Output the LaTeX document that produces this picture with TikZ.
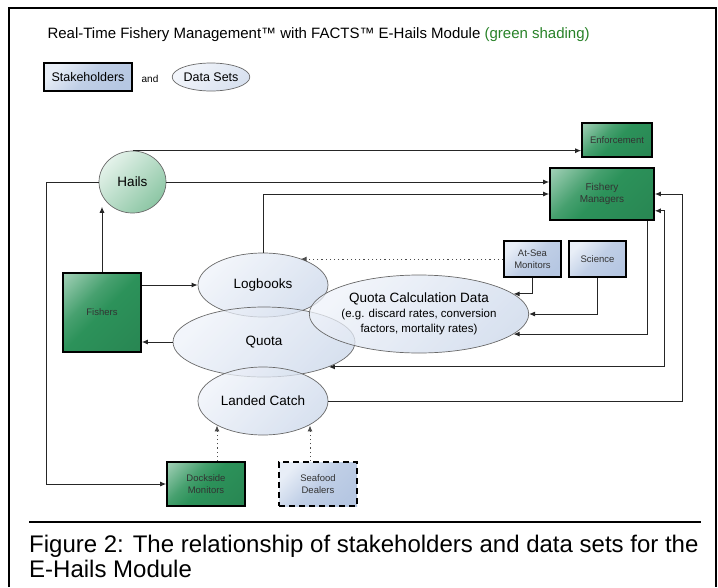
\documentclass[tikz,border=0pt]{standalone}
\usepackage{fontspec}
\setmainfont{Liberation Sans}
\definecolor{ehGreen}{RGB}{44,146,90}
\definecolor{ehGreenLight}{RGB}{222,240,230}
\definecolor{ehHails}{RGB}{140,198,164}
\definecolor{ehHailsLight}{RGB}{228,242,234}
\definecolor{ehBlue}{RGB}{182,199,226}
\definecolor{ehBlueLight}{RGB}{232,238,247}
\definecolor{ehData}{RGB}{203,215,234}
\definecolor{ehDataLight}{RGB}{238,242,249}
\definecolor{ehEdge}{RGB}{105,105,105}
\definecolor{ehText}{RGB}{40,130,40}
\usetikzlibrary{arrows.meta,positioning,shapes.geometric,calc}
\pgfdeclareverticalshading{ehgreenshade}{100bp}{color(0bp)=(ehGreen!88!black);
  color(50bp)=(ehGreen); color(62bp)=(ehGreen!85!ehGreenLight); color(100bp)=(ehGreenLight)}

\begin{document}
\begin{tikzpicture}[x=1pt, y=-1pt,
    stake/.style={rectangle, draw=black, line width=1.6pt, top color=ehBlueLight,
                  bottom color=ehBlue, middle color=ehBlue!80!ehBlueLight,
                  shading angle=45, align=center, text=black!80,
                  font=\fontsize{9.5}{11.5}\selectfont, inner sep=1pt},
    stakeG/.style={stake, shading=ehgreenshade, shading angle=45},
    data/.style={ellipse, draw=ehEdge, line width=0.7pt, top color=ehDataLight,
                 bottom color=ehData, shading angle=45, fill opacity=0.75,
                 text opacity=1, align=center, inner sep=0pt,
                 font=\fontsize{13.5}{16}\selectfont},
    link/.style={-{Latex[length=6pt,width=5pt]}, line width=1pt, draw=black!85},
    both/.style={link, {Latex[length=6pt,width=5pt]}-{Latex[length=6pt,width=5pt]}},
    dots/.style={link, dash pattern=on 1.2pt off 3pt, draw=black!70}
  ]
  \useasboundingbox (0,0) rectangle (718,587);
  \draw[line width=2pt] (9,587) -- (9,8) -- (716,8) -- (716,587);

  \node[anchor=west, font=\fontsize{15}{18}\selectfont] (title) at (44,35)
    {Real-Time Fishery Management™ with FACTS™ E-Hails Module \textcolor{ehText}{(green shading)}};
  \node[stake, minimum width=88pt, minimum height=28pt, text=black,
        font=\fontsize{12.5}{15}\selectfont] (legS) at (88,77) {Stakeholders};
  \node[font=\fontsize{10}{12}\selectfont] (legAnd) at (150,79) {and};
  \node[data, minimum width=72pt, minimum height=28pt,
        font=\fontsize{12.5}{15}\selectfont] (legD) at (211,77) {Data Sets};

  \node[stakeG, minimum width=70pt, minimum height=34pt] (enf) at (617,140) {Enforcement};
  \node[stakeG, minimum width=104pt, minimum height=52pt,
        font=\fontsize{10}{12}\selectfont] (fm) at (602,194) {Fishery\\Managers};
  \node[stake, minimum width=57pt, minimum height=36pt] (atsea) at (532.5,259) {At-Sea\\Monitors};
  \node[stake, minimum width=57pt, minimum height=36pt] (science) at (597.5,259) {Science};
  \node[stakeG, minimum width=78pt, minimum height=79pt] (fishers) at (102,312.5) {Fishers};
  \node[stakeG, minimum width=78pt, minimum height=44pt] (dock) at (206,484) {Dockside\\Monitors};
  \node[stake, dash pattern=on 6pt off 4pt, minimum width=78pt, minimum height=44pt] (sea) at (318,484) {Seafood\\Dealers};

  \node[data, top color=ehHailsLight, bottom color=ehHails, shading angle=45, fill opacity=1,
        minimum width=67pt, minimum height=62pt] (hails) at (132.5,182) {Hails};
  \node[data, minimum width=130pt, minimum height=64pt] (logbooks) at (263,285) {Logbooks};
  \node[data, minimum width=182pt, minimum height=70pt] (quota) at (264,342) {Quota};
  \node[data, minimum width=182pt, minimum height=78pt] (qcd) at (419,314)
    {Quota Calculation Data\\[-1pt]{\fontsize{11.5}{13.5}\selectfont (e.g. discard rates, conversion}\\[-1pt]
     {\fontsize{11.5}{13.5}\selectfont factors, mortality rates)}};
  \node[data, minimum width=130pt, minimum height=68pt] (landed) at (263,401) {Landed Catch};

  \coordinate (busL) at (46,0);
  \coordinate (busA) at (664,0);
  \coordinate (busB) at (682,0);

  \draw[link] (hails.north) -- (hails.north -| enf.west);
  \draw[link] (hails.east) -- (hails.east -| fm.west);
  \draw[link] (hails.west) -- (hails.west -| busL) |- (dock.west);
  \draw[link] (fishers.north) -- (fishers.north |- hails.230);
  \draw[link] (fishers.east |- logbooks.west) -- (logbooks.west);
  \draw[link] (quota.west) -- (fishers.east |- quota.west);
  \draw[link] (logbooks.north) |- (fm.west);
  \draw[dots] (atsea.west) -- (atsea.west -| logbooks.35);
  \draw[link] (atsea.south) |- (qcd.12);
  \draw[link] (science.south) |- (qcd.east);
  \draw[link] ([xshift=-7pt]fm.south east) |- (qcd.-12);
  \draw[both] (quota.-21) -- (quota.-21 -| busA) |- ([yshift=10pt]fm.south east);
  \draw[link] (landed.east) -- (landed.east -| busB) |- (fm.east);
  \draw[dots] ([xshift=11pt]dock.north) -- ([xshift=11pt]dock.north |- landed.208);
  \draw[dots] ([xshift=-8pt]sea.north) -- ([xshift=-8pt]sea.north |- landed.-28);

  \draw[line width=2pt] (29,522) -- (701,522);
  \node[anchor=north west, align=left, inner sep=0pt,
        font=\fontsize{24}{25}\selectfont] (caption) at (29,535)
    {Figure 2: The relationship of stakeholders and data sets for the\\E-Hails Module};
\end{tikzpicture}
\end{document}
